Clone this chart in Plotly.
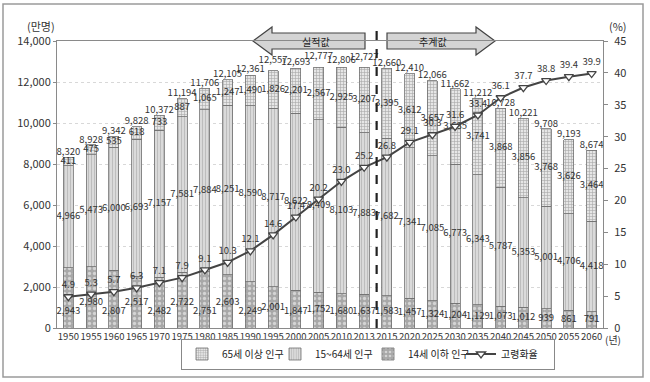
import plotly.graph_objects as go

years = ["1950", "1955", "1960", "1965", "1970", "1975", "1980", "1985", "1990", "1995",
         "2000", "2005", "2010", "2013", "2015", "2020", "2025", "2030", "2035", "2040",
         "2045", "2050", "2055", "2060"]
total = [8320, 8928, 9342, 9828, 10372, 11194, 11706, 12105, 12361, 12557,
         12693, 12777, 12806, 12727, 12660, 12410, 12066, 11662, 11212, 10728,
         10221, 9708, 9193, 8674]
pop65 = [411, 475, 535, 618, 733, 887, 1065, 1247, 1490, 1826,
         2201, 2567, 2925, 3207, 3395, 3612, 3657, 3685, 3741, 3868,
         3856, 3768, 3626, 3464]
pop15_64 = [4966, 5473, 6000, 6693, 7157, 7581, 7884, 8251, 8590, 8717,
            8622, 8409, 8103, 7883, 7682, 7341, 7085, 6773, 6343, 5787,
            5353, 5001, 4706, 4418]
pop0_14 = [2943, 2980, 2807, 2517, 2482, 2722, 2751, 2603, 2249, 2001,
           1847, 1752, 1680, 1637, 1583, 1457, 1324, 1204, 1129, 1073,
           1012, 939, 861, 791]
ratio = [4.9, 5.3, 5.7, 6.3, 7.1, 7.9, 9.1, 10.3, 12.1, 14.6,
         17.4, 20.2, 23.0, 25.2, 26.8, 29.1, 30.3, 31.6, 33.4, 36.1,
         37.7, 38.8, 39.4, 39.9]

FONT = "Noto Sans CJK KR"
TXT = "#333333"
W, H = 650, 382
L, R, T, B = 57, 47, 41, 54
PW, PH = W - L - R, H - T - B
YMAX = 14000
UNIT = YMAX / PH  # data units per pixel on the left axis


def px(x):
    return (x - L) / PW


def py(y):
    return (H - B - y) / PH


def fmt(v):
    return f"{v:,}"


fig = go.Figure()

fig.add_bar(x=years, y=pop0_14, name="14세 이하 인구", width=0.44,
            marker=dict(color="#a8a8a8", line=dict(color="#707070", width=0.8),
                        pattern=dict(shape=".", bgcolor="#a8a8a8", fgcolor="#ffffff",
                                     size=5, solidity=0.35)),
            legendrank=3)
fig.add_bar(x=years, y=pop15_64, name="15~64세 인구", width=0.44,
            marker=dict(color="#d6d6d6", line=dict(color="#707070", width=0.8),
                        pattern=dict(shape="|", bgcolor="#dadada", fgcolor="#9a9a9a",
                                     size=3, solidity=0.3)),
            legendrank=2)
fig.add_bar(x=years, y=pop65, name="65세 이상 인구", width=0.44,
            marker=dict(color="#e0e0e0", line=dict(color="#707070", width=0.8),
                        pattern=dict(shape="+", bgcolor="#e6e6e6", fgcolor="#6a6a6a",
                                     size=3, solidity=0.35)),
            legendrank=1)

tf = dict(family=FONT, size=9.5, color=TXT)

# label positions (staggered slightly to reduce overlap)
lab0 = [min(v / 2, (1250 if i % 2 else 800)) for i, v in enumerate(pop0_14)]
lab1 = [a + b / 2 for a, b in zip(pop0_14, pop15_64)]
lab2 = [a + b + c / 2 for a, b, c in zip(pop0_14, pop15_64, pop65)]
labt = [v + (5 * UNIT if (9 <= i <= 13 and i % 2) else 0) for i, v in enumerate(total)]

fig.add_scatter(x=years, y=lab0, mode="text", text=[fmt(v) for v in pop0_14],
                textfont=tf, showlegend=False, hoverinfo="skip")
fig.add_scatter(x=years, y=lab1, mode="text", text=[fmt(v) for v in pop15_64],
                textfont=tf, showlegend=False, hoverinfo="skip")
fig.add_scatter(x=years, y=lab2, mode="text", text=[fmt(v) for v in pop65],
                textfont=tf, showlegend=False, hoverinfo="skip")
fig.add_scatter(x=years, y=labt, mode="text", text=[fmt(v) for v in total],
                textposition="top center", textfont=tf, showlegend=False,
                hoverinfo="skip")

fig.add_scatter(x=years, y=ratio, yaxis="y2", name="고령화율", mode="lines+markers+text",
                line=dict(color="#444444", width=2),
                marker=dict(symbol="triangle-down", size=8, color="white",
                            line=dict(color="#444444", width=1.3)),
                text=[f"{v:.1f}" for v in ratio], textposition="top center",
                textfont=tf, legendrank=4)

shapes = []
# dashed divider
shapes.append(dict(type="line", xref="x", yref="paper", x0=13.55, x1=13.55,
                   y0=0, y1=py(29), line=dict(color="#222222", width=2.2, dash="dash")))

yc = 41
# left arrow (실적값)
ax0, ax1, ahb = 253, 365, 272
path = (f"M {px(ax0)} {py(yc)} L {px(ahb)} {py(27)} L {px(ahb)} {py(33)} "
        f"L {px(ax1)} {py(33)} L {px(ax1)} {py(49)} L {px(ahb)} {py(49)} "
        f"L {px(ahb)} {py(55)} Z")
shapes.append(dict(type="path", xref="paper", yref="paper", path=path, layer="below",
                   fillcolor="#d4d4d4", line=dict(color="#444444", width=1.2)))
# right arrow (추계값)
bx0, bx1, bhb = 387, 495, 476
path2 = (f"M {px(bx1)} {py(yc)} L {px(bhb)} {py(27)} L {px(bhb)} {py(33)} "
         f"L {px(bx0)} {py(33)} L {px(bx0)} {py(49)} L {px(bhb)} {py(49)} "
         f"L {px(bhb)} {py(55)} Z")
shapes.append(dict(type="path", xref="paper", yref="paper", path=path2, layer="below",
                   fillcolor="#d4d4d4", line=dict(color="#444444", width=1.2)))
# outer frame
shapes.append(dict(type="rect", xref="paper", yref="paper", x0=px(3), x1=px(643),
                   y0=py(377), y1=py(4), line=dict(color="#9a9a9a", width=1.5),
                   fillcolor="rgba(0,0,0,0)", layer="below"))


def ann(text, x, y, size=10, xanchor="center", color=TXT):
    return dict(text=text, x=px(x), y=py(y), xref="paper", yref="paper",
                xanchor=xanchor, yanchor="middle", showarrow=False,
                font=dict(family=FONT, size=size, color=color))


annotations = [
    ann("실적값", 316, 41, 10, color="#222"),
    ann("추계값", 433, 41, 10, color="#222"),
    ann("(만명)", 41, 26, 11),
    ann("(%)", 618, 26, 11),
    ann("(년)", 603, 339, 10, xanchor="left"),
]

fig.update_layout(
    width=W, height=H,
    margin=dict(l=L, r=R, t=T, b=B, autoexpand=False),
    barmode="stack",
    plot_bgcolor="white", paper_bgcolor="white",
    font=dict(family=FONT, size=11, color=TXT),
    xaxis=dict(type="category", range=[-0.5, 23.5], tickangle=0, automargin=False,
               tickfont=dict(family=FONT, size=9.5, color=TXT),
               showline=True, linecolor="#8a8a8a", mirror=True, ticks="",
               showgrid=False),
    yaxis=dict(range=[0, YMAX], dtick=2000, tickformat=",", showgrid=True,
               automargin=False,
               gridcolor="#d8d8d8", griddash="dot", showline=True,
               linecolor="#8a8a8a", mirror=True, ticks="outside", ticklen=3,
               tickcolor="#8a8a8a", tickfont=dict(family=FONT, size=11, color=TXT)),
    yaxis2=dict(range=[0, 45], dtick=5, overlaying="y", side="right", automargin=False,
                showgrid=False, ticks="outside", ticklen=4, tickcolor="#8a8a8a",
                ticklabelstandoff=4,
                tickfont=dict(family=FONT, size=11, color=TXT), showline=False),
    legend=dict(orientation="h", xref="container", yref="container",
                x=181 / W, y=1 - 354 / H, xanchor="left",
                yanchor="middle", bordercolor="#888888", borderwidth=1,
                font=dict(family=FONT, size=10, color="#222"),
                itemwidth=30, entrywidth=48, traceorder="normal", bgcolor="white"),
    shapes=shapes,
    annotations=annotations,
    showlegend=True,
)

fig.write_html("out.html", config={"displayModeBar": False},
               post_script="document.body.style.margin='0px';")
